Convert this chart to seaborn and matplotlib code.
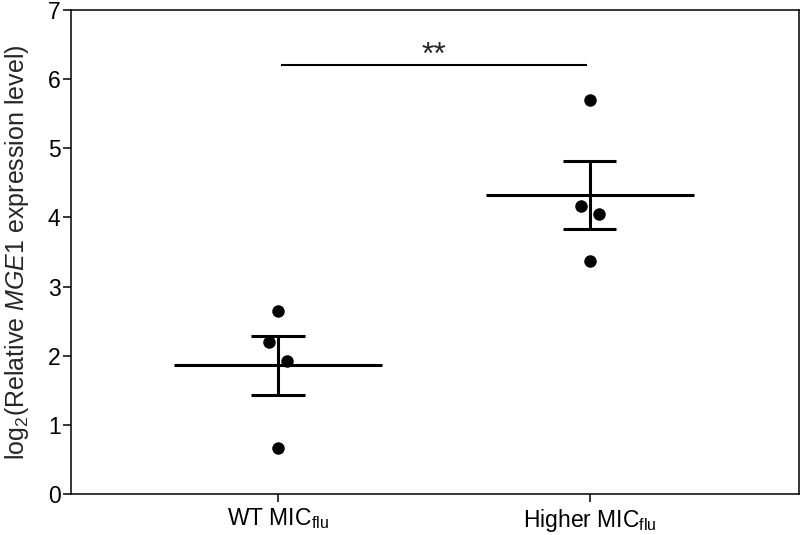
import numpy as np
import pandas as pd
import matplotlib
matplotlib.use("Agg")
import matplotlib.pyplot as plt
import seaborn as sns

# Data
groups = ["WT MIC$_{\\mathrm{flu}}$", "Higher MIC$_{\\mathrm{flu}}$"]
wt_values = [2.65, 2.20, 1.93, 0.66]
higher_values = [5.70, 4.16, 4.05, 3.37]
y_ticks = [0, 1, 2, 3, 4, 5, 6, 7]
sig_label = "**"
sig_level = 6.2

sns.set_theme(style="white")
plt.rcParams["font.family"] = ["Liberation Sans", "DejaVu Sans"]
plt.rcParams["mathtext.fontset"] = "custom"
plt.rcParams["mathtext.rm"] = "Liberation Sans"
plt.rcParams["mathtext.it"] = "Liberation Sans:italic"
plt.rcParams["mathtext.bf"] = "Liberation Sans:bold"

df = pd.DataFrame({
    "group": [groups[0]] * len(wt_values) + [groups[1]] * len(higher_values),
    "value": wt_values + higher_values,
})

fig = plt.figure(figsize=(8.0, 5.35), dpi=100)
ax = fig.add_axes([0.08875, 0.0766, 0.91, 0.9047])

sns.stripplot(data=df, x="group", y="value", order=groups, jitter=False,
              color="black", size=9, linewidth=0, ax=ax, zorder=3)

# spread near-coincident points horizontally (as in a scatter-dot plot)
for coll in ax.collections:
    offs = coll.get_offsets().copy()
    if len(offs) == 0:
        continue
    for gi in range(len(groups)):
        idx = np.where(np.isclose(offs[:, 0], gi))[0]
        if len(idx) < 2:
            continue
        ys = offs[idx, 1]
        order = np.argsort(ys)
        for a, b in zip(order[:-1], order[1:]):
            if abs(ys[b] - ys[a]) < 0.35:
                offs[idx[b], 0] = gi - 0.03
                offs[idx[a], 0] = gi + 0.03
    coll.set_offsets(offs)

# mean + SEM
for gi, vals in enumerate([wt_values, higher_values]):
    v = np.asarray(vals)
    m = v.mean()
    se = v.std(ddof=1) / np.sqrt(len(v))
    ax.hlines(m, gi - 0.333, gi + 0.333, color="black", lw=2.2, zorder=2)
    ax.vlines(gi, m - se, m + se, color="black", lw=2.2, zorder=2)
    ax.hlines([m - se, m + se], gi - 0.085, gi + 0.085, color="black", lw=2.2, zorder=2)

# significance bar
ax.hlines(sig_level, 0.01, 0.99, color="black", lw=1.5)
ax.text(0.5, sig_level + 0.02, sig_label, ha="center", va="baseline", fontsize=23)

ax.set_xlim(-0.6635, 1.67)
ax.set_ylim(0, 7)
ax.set_yticks(y_ticks)
ax.set_xlabel("")
ax.set_ylabel("log$_2$(Relative $\\mathit{MGE1}$ expression level)", fontsize=18, labelpad=12)
ax.tick_params(axis="both", labelsize=16.5, direction="out", length=6, width=1.1,
               color="black", labelcolor="black", left=True, bottom=True)
ax.tick_params(axis="y", pad=1.5)
ax.tick_params(axis="x", pad=3)
for s in ax.spines.values():
    s.set_visible(True)
    s.set_color("black")
    s.set_linewidth(1.1)

fig.savefig("out.png", dpi=100, facecolor="white")
